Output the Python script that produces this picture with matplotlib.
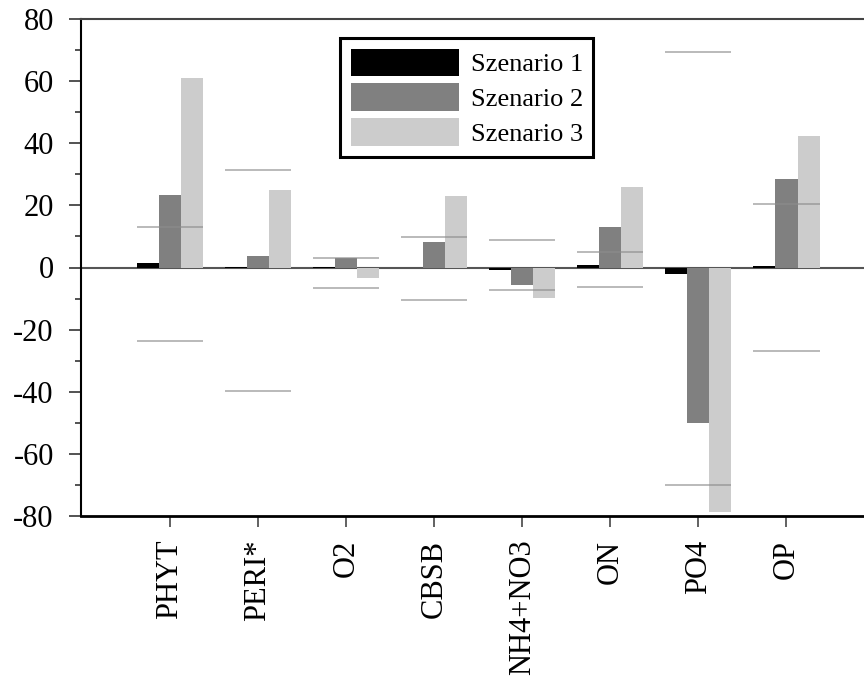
import matplotlib
matplotlib.use("Agg")
import matplotlib.pyplot as plt
import numpy as np

plt.rcParams['font.family'] = ['Liberation Serif', 'DejaVu Serif']
plt.rcParams['axes.unicode_minus'] = False

categories = ['PHYT', 'PERI*', 'O2', 'CBSB', 'NH4+NO3', 'ON', 'PO4', 'OP']
szenario1 = [1.4, 0.3, 0.2, -0.3, -0.8, 0.7, -2.1, 0.4]
szenario2 = [23.3, 3.6, 3.2, 8.2, -5.7, 13.0, -50.1, 28.5]
szenario3 = [61.1, 24.9, -3.3, 23.0, -9.8, 25.9, -78.8, 42.3]
range_upper = [13.0, 31.5, 3.1, 9.8, 8.7, 5.0, 69.5, 20.5]
range_lower = [-23.8, -39.6, -6.7, -10.5, -7.3, -6.2, -70.1, -26.8]
series_labels = ['Szenario 1', 'Szenario 2', 'Szenario 3']
colors = ['#000000', '#808080', '#cccccc']

fig = plt.figure(figsize=(8.64, 6.78), dpi=100)
ax = fig.add_axes([81/864, 1-516/678, 1-81/864, (516-19)/678])

x = np.arange(len(categories))
w = 0.25
for i, (vals, c, lab) in enumerate(zip([szenario1, szenario2, szenario3], colors, series_labels)):
    ax.bar(x + (i-1)*w, vals, width=w, color=c, label=lab, zorder=2, linewidth=0)

ax.axhline(0, color='#555555', lw=1.5, zorder=1)
ax.hlines(range_upper, x-1.5*w, x+1.5*w, color='#8c8c8c', alpha=0.65, lw=1.3, zorder=3)
ax.hlines(range_lower, x-1.5*w, x+1.5*w, color='#8c8c8c', alpha=0.65, lw=1.3, zorder=3)

ax.set_xlim(-1.01, 7.88)
ax.set_ylim(-80, 80)
ax.set_yticks(np.arange(-80, 81, 20))
ax.set_yticks(np.arange(-70, 80, 20), minor=True)
ax.set_xticks(x)
ax.set_xticklabels(categories, rotation=90, fontsize=22, va='top', ha='center')
ax.tick_params(axis='y', which='major', length=8.6, width=1.3, color='#444444', labelsize=22, pad=11)
ax.tick_params(axis='y', which='minor', length=4.3, width=1.3, color='#444444')
ax.tick_params(axis='x', which='major', length=8, width=1.3, color='#555555', pad=9)

ax.spines['right'].set_visible(False)
ax.spines['left'].set_color('black')
ax.spines['left'].set_linewidth(1.5)
ax.spines['top'].set_color('#444444')
ax.spines['top'].set_linewidth(1.5)
ax.spines['bottom'].set_color('black')
ax.spines['bottom'].set_linewidth(2)

leg = ax.legend(loc='upper left', bbox_to_anchor=(340/864, 1-38/678), bbox_transform=fig.transFigure,
                fontsize=19, handlelength=4.1, handleheight=1.25, labelspacing=0.26,
                handletextpad=0.45, borderpad=0.4, borderaxespad=0, fancybox=False,
                edgecolor='black', framealpha=1)
leg.get_frame().set_linewidth(2.2)

fig.savefig('out.png', dpi=100)
